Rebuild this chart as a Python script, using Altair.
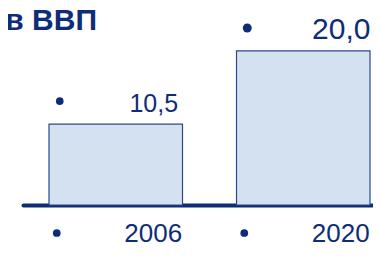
import altair as alt
import pandas as pd

# ---- data ----
years = ["2006", "2020"]
values = [10.5, 20.0]
value_labels = ["10,5", "20,0"]
title_text = "в ВВП"

NAVY = "#0F2C78"
BAR_FILL = "#D4E1F1"
BAR_STROKE = "#2A4886"
FONT = "Liberation Sans"

df = pd.DataFrame({"year": years, "value": values, "label": value_labels})
title_df = pd.DataFrame({"t": [title_text]})

x_enc = alt.X(
    "year:N",
    sort=years,
    scale=alt.Scale(domain=years, paddingInner=0.288, paddingOuter=0.0773, align=0.897),
    axis=alt.Axis(labels=False, ticks=False, title=None, grid=False,
                  domainWidth=4, domainColor=NAVY, domainCap="round"),
)
y_enc = alt.Y("value:Q", scale=alt.Scale(domain=[0, 25.58], nice=False, zero=True), axis=None)

big = alt.datum.year == "2020"

base = alt.Chart(df)

bars = base.mark_bar(fill=BAR_FILL, stroke=BAR_STROKE, strokeWidth=1.2).encode(x=x_enc, y=y_enc)

val_bullets = base.mark_point(filled=True, shape="circle", color=NAVY, opacity=1,
                              xOffset=-56, yOffset=-23).encode(
    x=x_enc, y=y_enc,
    size=alt.condition(big, alt.value(80), alt.value(58)),
)

val_text = base.mark_text(font=FONT, color=NAVY, align="center", baseline="alphabetic",
                          dx=38, dy=-12).encode(
    x=x_enc, y=y_enc, text="label:N",
    size=alt.condition(big, alt.value(30), alt.value(25)),
)

year_bullets = base.mark_point(filled=True, shape="circle", color=NAVY, opacity=1,
                               size=60, xOffset=-59).encode(
    x=x_enc, y=alt.value(225),
)

year_text = base.mark_text(font=FONT, color=NAVY, fontSize=26, align="center",
                           baseline="alphabetic", dx=37.5).encode(
    x=x_enc, y=alt.value(234), text="year:N",
)

title = alt.Chart(title_df).mark_text(font=FONT, fontWeight="bold", fontSize=30, color=NAVY,
                                      align="right", baseline="alphabetic").encode(
    x=alt.value(74), y=alt.value(22), text="t:N",
)

chart = alt.layer(bars, val_bullets, val_text, year_bullets, year_text, title).properties(
    width=350, height=197,
    padding={"left": 15, "top": 0, "right": 0, "bottom": 43},
    autosize="none",
).configure_view(stroke=None)

chart.save("out.html", embed_options={"renderer": "svg", "actions": False})
